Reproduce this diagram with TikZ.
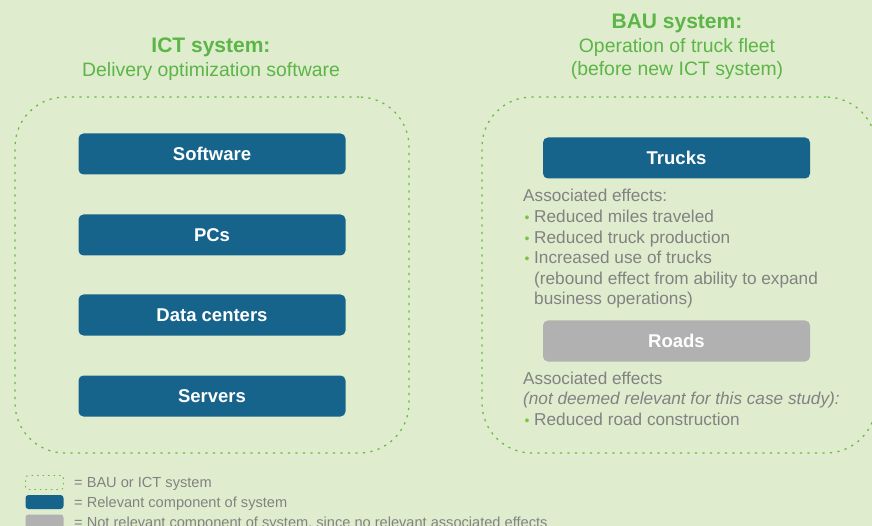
\documentclass[tikz,border=0pt]{standalone}
\usepackage{fontspec}
\setmainfont{Liberation Sans}
\definecolor{bg}{HTML}{DFECCD}
\definecolor{ttl}{HTML}{5CB547}
\definecolor{dashc}{HTML}{66BB47}
\definecolor{blu}{HTML}{16648C}
\definecolor{gry}{HTML}{B1B1B1}
\definecolor{txt}{HTML}{828282}
\definecolor{bul}{HTML}{7DC242}
\tikzset{
  sysbox/.style={draw=dashc, line width=1.25pt, dash pattern=on 2.2pt off 5.3pt, rounded corners=50pt, inner sep=0pt},
  bluebox/.style={fill=blu, rounded corners=5pt, minimum width=267pt, minimum height=41pt, inner sep=0pt, text=white, font=\fontsize{18.5}{20}\selectfont\bfseries},
  graybox/.style={bluebox, fill=gry},
  ttlb/.style={anchor=base, text=ttl, inner sep=0pt, font=\fontsize{21}{24}\selectfont\bfseries},
  ttlr/.style={anchor=base, text=ttl, inner sep=0pt, font=\fontsize{19.4}{22}\selectfont},
  body/.style={anchor=base west, text=txt, inner sep=0pt, font=\fontsize{17.2}{20}\selectfont},
  bodyi/.style={body, font=\fontsize{17.2}{20}\selectfont\itshape},
  bull/.style={anchor=base, text=bul, inner sep=0pt, font=\fontsize{14}{14}\selectfont},
  leg/.style={anchor=base west, text=txt, inner sep=0pt, font=\fontsize{14.6}{16}\selectfont},
  legbox/.style={rounded corners=3pt, minimum width=38pt, minimum height=14pt, inner sep=0pt},
}
\begin{document}
\begin{tikzpicture}[x=1pt, y=-1pt]
\fill[bg] (0,0) rectangle (872,526);
\useasboundingbox (0,0) rectangle (872,526);

% titles
\node[ttlb] (t1) at (211,53) {ICT system:};
\node[ttlr] (t2) at (211,77) {Delivery optimization software};
\node[ttlb] (t3) at (677,29) {BAU system:};
\node[ttlr] (t4) at (677,53) {Operation of truck fleet};
\node[ttlr] (t5) at (677,76) {(before new ICT system)};

% system outlines
\node[sysbox, minimum width=394pt, minimum height=356pt] (ict) at (212,275) {};
\node[sysbox, minimum width=394pt, minimum height=356pt] (bau) at (679,275) {};

% ICT components
\node[bluebox] (sw) at (212,154) {Software};
\node[bluebox] (pc) at (212,235) {PCs};
\node[bluebox] (dc) at (212,315) {Data centers};
\node[bluebox] (sv) at (212,396) {Servers};

% BAU components
\node[bluebox] (tr) at (676.5,158) {Trucks};
\node[graybox] (rd) at (676.5,341) {Roads};

% truck effects
\node[body] (e0) at (523,202) {Associated effects:};
\node[bull] (b1) at (527,223) {•};
\node[body] (e1) at (534,223) {Reduced miles traveled};
\node[bull] (b2) at (527,243.5) {•};
\node[body] (e2) at (534,243.5) {Reduced truck production};
\node[bull] (b3) at (527,264) {•};
\node[body] (e3) at (534,264) {Increased use of trucks};
\node[body] (e4) at (534,284.5) {(rebound effect from ability to expand};
\node[body] (e5) at (534,305) {business operations)};

% road effects
\node[body] (r0) at (523,384) {Associated effects};
\node[bodyi] (r1) at (523,404.5) {(not deemed relevant for this case study):};
\node[bull] (b4) at (527,425) {•};
\node[body] (r2) at (534,425) {Reduced road construction};

% legend
\node[legbox, draw=dashc, line width=0.9pt, dash pattern=on 1.5pt off 4pt] (lg1) at (44.5,482.5) {};
\node[legbox, fill=blu] (lg2) at (44.5,502) {};
\node[legbox, fill=gry] (lg3) at (44.5,521.5) {};
\node[leg] (l1) at (74,487) {= BAU or ICT system};
\node[leg] (l2) at (74,507) {= Relevant component of system};
\node[leg] (l3) at (74,527) {= Not relevant component of system, since no relevant associated effects};
\end{tikzpicture}
\end{document}
